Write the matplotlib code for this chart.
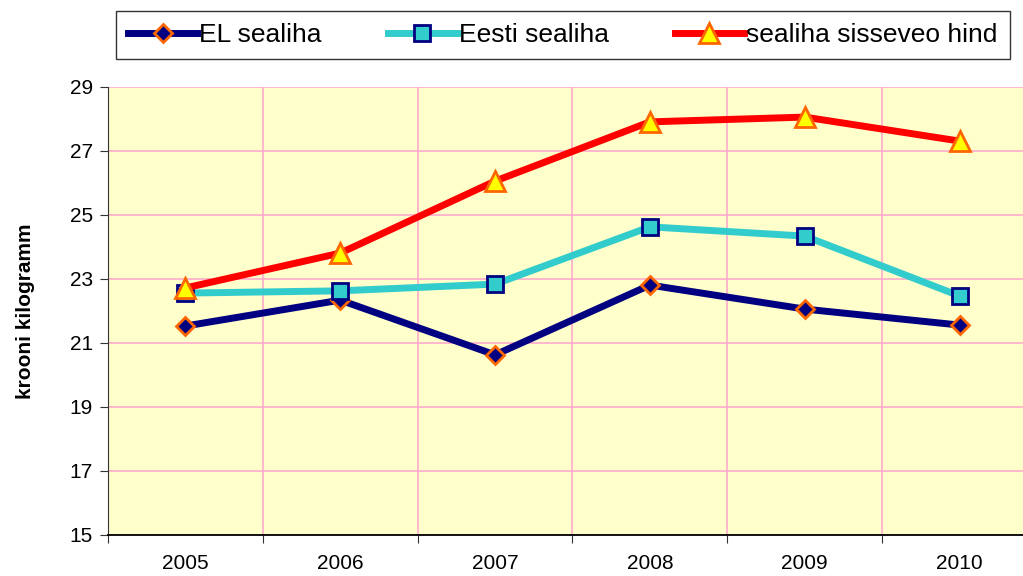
import matplotlib
matplotlib.use("Agg")
import matplotlib.pyplot as plt
from matplotlib.ticker import FixedLocator, NullFormatter

plt.rcParams['font.family'] = ['Liberation Sans', 'DejaVu Sans']

years = ['2005', '2006', '2007', '2008', '2009', '2010']
el_sealiha = [21.53, 22.34, 20.63, 22.81, 22.06, 21.56]
eesti_sealiha = [22.56, 22.63, 22.84, 24.63, 24.34, 22.47]
sisseveo_hind = [22.72, 23.81, 26.06, 27.91, 28.06, 27.31]

fig = plt.figure(figsize=(10.23, 5.76), dpi=100)
ax = fig.add_axes([108/1023, 1 - 535/576, (1037 - 108)/1023, (535 - 87)/576])
ax.set_facecolor('#FFFFCC')

x = list(range(len(years)))
ax.plot(x, el_sealiha, color='#000080', lw=5, marker='D', ms=9,
        mfc='#000080', mec='#FF6600', mew=2, label='EL sealiha', zorder=3)
ax.plot(x, eesti_sealiha, color='#33CCCC', lw=5, marker='s', ms=12,
        mfc='#33CCCC', mec='#000080', mew=2, label='Eesti sealiha', zorder=3)
ax.plot(x, sisseveo_hind, color='#FF0000', lw=5, marker='^', ms=14,
        mfc='#FFFF00', mec='#FF6600', mew=2, label='sealiha sisseveo hind', zorder=3)

ax.set_xlim(-0.5, 5.5)
ax.set_ylim(15, 29)
ax.set_yticks(range(15, 30, 2))
ax.xaxis.set_major_locator(FixedLocator([i - 0.5 for i in range(7)]))
ax.xaxis.set_major_formatter(NullFormatter())
ax.xaxis.set_minor_locator(FixedLocator(x))
ax.set_xticklabels(years, minor=True)
ax.tick_params(axis='x', which='minor', length=0, pad=14, labelsize=15)
ax.tick_params(axis='x', which='major', length=6, direction='out', color='#333333')
ax.tick_params(axis='y', length=6, direction='out', labelsize=15, color='#333333', pad=5)

ax.grid(True, which='major', color='#FFAACC', lw=1.2, zorder=0)
ax.set_axisbelow(True)
for s in ['top', 'right']:
    ax.spines[s].set_visible(False)
ax.spines['left'].set_color('#333333')
ax.spines['bottom'].set_color('black')
ax.spines['bottom'].set_linewidth(1.3)

ax.set_ylabel('krooni kilogramm', fontsize=15, fontweight='bold', labelpad=25)

leg = fig.legend(loc='center', bbox_to_anchor=(563/1023, 1 - 35/576), ncol=3,
                 fontsize=19, frameon=True, fancybox=False, edgecolor='black',
                 handlelength=2.6, columnspacing=2.5, handletextpad=0.1,
                 borderpad=0.45, borderaxespad=0)
leg.get_frame().set_linewidth(1.0)

fig.savefig('out.png', dpi=100)
